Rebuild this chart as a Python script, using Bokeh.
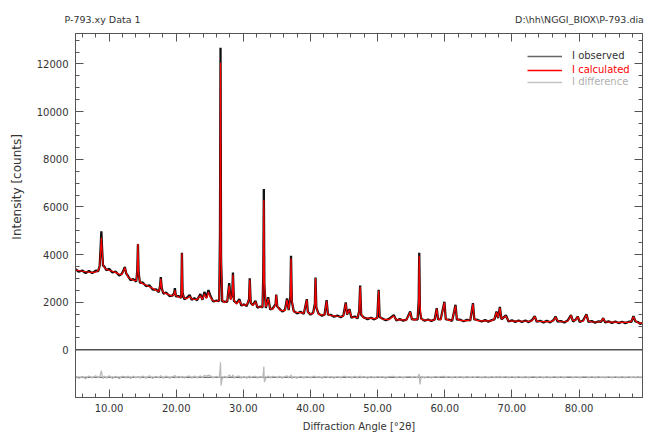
from bokeh.plotting import figure
from bokeh.models import (Range1d, LinearAxis, FixedTicker, NumeralTickFormatter,
                          Span, Title, Legend, LegendItem, ColumnDataSource)
from bokeh.embed import file_html
from bokeh.resources import INLINE

# ---- data ----
tth = [5.0, 5.5, 6.0, 6.5, 7.0, 7.5, 8.0, 8.4, 8.6, 8.75, 8.85, 8.95, 9.1, 9.3, 9.6, 10.0, 10.5, 11.0, 11.5, 11.9,
       12.15, 12.35, 12.55, 12.8, 13.2, 13.6, 14.05, 14.2, 14.3, 14.4, 14.6, 15.0, 15.5, 16.0, 16.5, 17.0, 17.4,
       17.6, 17.7, 17.85, 18.1, 18.5, 19.0, 19.5, 19.7, 19.8, 19.95, 20.4, 20.75, 20.85, 20.95, 21.2, 21.6, 22.0,
       22.3, 22.7, 23.1, 23.6, 23.9, 24.2, 24.5, 24.8, 25.1, 25.5, 26.0, 26.4, 26.52, 26.6, 26.68, 26.85, 27.2,
       27.6, 27.9, 28.1, 28.35, 28.45, 28.6, 29.0, 29.4, 29.7, 30.1, 30.5, 30.85, 30.95, 31.1, 31.4, 31.8, 32.1,
       32.5, 32.85, 32.97, 33.05, 33.13, 33.35, 33.7, 34.0, 34.4, 34.8, 34.9, 35.05, 35.4, 35.8, 36.2, 36.5, 36.75,
       37.0, 37.1, 37.22, 37.5, 38.0, 38.5, 39.0, 39.45, 39.6, 40.0, 40.4, 40.65, 40.75, 40.87, 41.2, 41.7, 42.1,
       42.4, 42.6, 43.0, 43.5, 44.0, 44.5, 44.9, 45.25, 45.45, 45.8, 46.1, 46.6, 47.0, 47.25, 47.4, 47.55, 47.9,
       48.5, 49.0, 49.5, 49.95, 50.15, 50.3, 50.7, 51.2, 51.7, 52.4, 52.8, 53.3, 53.8, 54.3, 54.85, 55.1, 55.5,
       55.95, 56.12, 56.2, 56.3, 56.5, 57.0, 57.5, 58.0, 58.5, 58.8, 59.0, 59.4, 59.95, 60.15, 60.6, 61.1, 61.6,
       61.8, 62.3, 62.8, 63.3, 63.8, 64.2, 64.4, 64.9, 65.5, 66.0, 66.5, 67.0, 67.4, 67.7, 67.95, 68.2, 68.45,
       69.1, 69.5, 70.0, 70.5, 71.0, 71.5, 72.0, 72.5, 73.0, 73.4, 73.7, 74.2, 74.7, 75.2, 75.7, 76.2, 76.5, 76.8,
       77.3, 77.8, 78.3, 78.8, 79.1, 79.5, 79.8, 80.1, 80.6, 81.1, 81.4, 81.9, 82.4, 82.9, 83.3, 83.6, 83.9, 84.4,
       84.9, 85.4, 85.9, 86.4, 86.9, 87.4, 87.8, 88.1, 88.4, 88.8, 89.1, 89.4]

i_calculated = [3350, 3330, 3300, 3280, 3260, 3250, 3260, 3330, 3500, 4200, 4700, 4200, 3600, 3450, 3380, 3340, 3300, 3240, 3180, 3160,
                3300, 3450, 3250, 3060, 2980, 2930, 2900, 3300, 4450, 3200, 2850, 2780, 2720, 2650, 2580, 2500, 2450,
                2650, 2980, 2560, 2400, 2360, 2300, 2260, 2350, 2500, 2280, 2210, 2200, 4050, 2350, 2170, 2150, 2250,
                2140, 2120, 2110, 2280, 2120, 2350, 2150, 2420, 2200, 2060, 2030, 2080, 4500, 12050, 4200, 2100, 1980,
                2050, 2700, 2100, 2300, 3150, 2100, 1920, 2080, 1900, 1880, 1880, 2100, 2950, 2000, 1850, 2020, 1810,
                1790, 1800, 3000, 6300, 2900, 1800, 2150, 1720, 1710, 1900, 2300, 1850, 1680, 1650, 1650, 2100, 1700,
                2200, 3850, 2100, 1600, 1570, 1560, 1540, 2100, 1580, 1510, 1520, 1900, 3000, 1800, 1490, 1470, 1460,
                2050, 1500, 1440, 1430, 1410, 1400, 1400, 1950, 1500, 1680, 1380, 1360, 1350, 1600, 2650, 1500, 1340,
                1330, 1320, 1310, 1330, 2480, 1400, 1290, 1280, 1270, 1420, 1260, 1260, 1255, 1250, 1580, 1300, 1250,
                1300, 2000, 3950, 1900, 1280, 1250, 1245, 1240, 1260, 1720, 1300, 1260, 1980, 1300, 1240, 1250, 1850,
                1300, 1235, 1230, 1230, 1260, 1930, 1300, 1225, 1220, 1220, 1215, 1220, 1300, 1580, 1350, 1760, 1300,
                1420, 1220, 1210, 1205, 1205, 1200, 1200, 1195, 1220, 1400, 1210, 1190, 1185, 1185, 1185, 1230, 1380, 1220,
                1180, 1180, 1200, 1440, 1220, 1250, 1390, 1200, 1200, 1470, 1200, 1175, 1170, 1170, 1200, 1320, 1180, 1165,
                1160, 1160, 1155, 1150, 1150, 1150, 1200, 1390, 1220, 1130, 1120, 1110]

i_observed = [3390, 3280, 3330, 3220, 3310, 3220, 3320, 3310, 3530, 4350, 4980, 4300, 3540, 3500, 3340, 3400, 3250, 3280, 3120, 3190,
              3340, 3480, 3210, 3110, 2930, 2970, 2870, 3330, 4430, 3240, 2810, 2830, 2680, 2710, 2530, 2540, 2420,
              2690, 3050, 2580, 2360, 2410, 2260, 2290, 2390, 2590, 2250, 2250, 2180, 4080, 2390, 2130, 2190, 2300,
              2100, 2170, 2080, 2340, 2100, 2430, 2190, 2510, 2260, 2030, 2070, 2050, 4800, 12680, 3850, 2040, 2020,
              2020, 2800, 2130, 2340, 3250, 2060, 1960, 2130, 1860, 1910, 1840, 2130, 3000, 1970, 1880, 2060, 1770,
              1820, 1780, 3150, 6750, 2700, 1760, 2210, 1690, 1750, 1920, 2320, 1820, 1720, 1610, 1680, 2160, 1670,
              2260, 3950, 2040, 1630, 1530, 1600, 1510, 2130, 1600, 1480, 1560, 1940, 3040, 1770, 1520, 1430, 1490,
              2090, 1480, 1470, 1390, 1440, 1370, 1440, 1990, 1480, 1710, 1350, 1400, 1320, 1630, 2700, 1470, 1370,
              1290, 1350, 1280, 1350, 2520, 1380, 1320, 1240, 1300, 1460, 1230, 1290, 1225, 1270, 1610, 1280, 1280,
              1270, 2100, 4080, 1600, 1310, 1220, 1275, 1210, 1280, 1750, 1280, 1290, 2020, 1280, 1270, 1220, 1890,
              1270, 1265, 1200, 1260, 1240, 1960, 1280, 1255, 1190, 1250, 1185, 1250, 1280, 1610, 1330, 1800, 1280,
              1450, 1190, 1240, 1175, 1235, 1170, 1230, 1165, 1250, 1420, 1180, 1220, 1155, 1215, 1155, 1250, 1400, 1190,
              1210, 1150, 1230, 1460, 1190, 1270, 1400, 1170, 1230, 1490, 1170, 1205, 1140, 1200, 1180, 1330, 1150, 1195,
              1130, 1190, 1125, 1180, 1120, 1180, 1180, 1410, 1190, 1160, 1090, 1130]

i_difference = [-1110, -1200, -1120, -1210, -1100, -1180, -1090, -1170, -1120, -1000, -870, -1050, -1210, -1100, -1190, -1090, -1200, -1110, -1210, -1120,
                -1110, -1120, -1190, -1100, -1200, -1110, -1180, -1120, -1170, -1110, -1190, -1100, -1190, -1090, -1200, -1110, -1180,
                -1110, -1080, -1130, -1190, -1100, -1190, -1120, -1110, -1060, -1180, -1110, -1170, -1120, -1110, -1190, -1110, -1100,
                -1190, -1100, -1180, -1090, -1170, -1070, -1110, -1060, -1090, -1180, -1110, -1180, -850, -520, -1500, -1210, -1110,
                -1180, -1050, -1120, -1110, -1050, -1190, -1110, -1100, -1190, -1120, -1190, -1120, -1100, -1180, -1120, -1110, -1190,
                -1120, -1170, -1000, -700, -1350, -1190, -1090, -1180, -1110, -1130, -1130, -1180, -1110, -1190, -1120, -1090, -1180,
                -1090, -1050, -1210, -1120, -1190, -1110, -1180, -1120, -1130, -1180, -1110, -1110, -1110, -1180, -1120, -1190, -1120,
                -1110, -1170, -1120, -1190, -1120, -1180, -1110, -1110, -1170, -1120, -1180, -1110, -1180, -1120, -1100, -1180, -1120,
                -1190, -1120, -1180, -1130, -1110, -1170, -1120, -1190, -1120, -1110, -1180, -1120, -1180, -1130, -1120, -1170, -1120,
                -1180, -1050, -1020, -1450, -1120, -1180, -1120, -1180, -1130, -1120, -1170, -1120, -1110, -1170, -1120, -1180, -1110,
                -1180, -1120, -1180, -1120, -1170, -1120, -1170, -1120, -1180, -1120, -1180, -1120, -1170, -1120, -1170, -1110, -1170,
                -1120, -1180, -1120, -1180, -1120, -1180, -1120, -1180, -1120, -1130, -1180, -1120, -1180, -1120, -1180, -1130, -1130, -1180,
                -1120, -1180, -1120, -1130, -1180, -1130, -1140, -1180, -1120, -1130, -1180, -1120, -1180, -1120, -1170, -1140, -1180, -1120,
                -1180, -1120, -1180, -1120, -1180, -1120, -1170, -1130, -1180, -1120, -1180, -1130]

difference_offset = -1150
x_major = [10, 20, 30, 40, 50, 60, 70, 80]
x_minor = [6, 8, 12, 14, 16, 18, 22, 24, 26, 28, 32, 34, 36, 38, 42, 44, 46, 48, 52, 54, 56, 58,
           62, 64, 66, 68, 72, 74, 76, 78, 82, 84, 86, 88]
y_major = [0, 2000, 4000, 6000, 8000, 10000, 12000]
y_minor = [500, 1000, 1500, 2500, 3000, 3500, 4500, 5000, 5500, 6500, 7000, 7500,
           8500, 9000, 9500, 10500, 11000, 11500, 12500, 13000]
legend_labels = ["I observed", "I calculated", "I difference"]
header_left = "P-793.xy Data 1"
header_right = "D:\\hh\\NGGI_BIOX\\P-793.dia"
y_label = "Intensity [counts]"
x_label = "Diffraction Angle [°2θ]"

# ---- figure ----
FONT = "DejaVu Sans"
AX = "#555555"
TXT = "#333333"
NB = "\u00a0"

p = figure(width=649, height=434, output_backend="svg", toolbar_location=None,
           x_range=Range1d(5, 89.45), y_range=Range1d(-2000, 13280),
           min_border_left=75, min_border_right=7, min_border_top=33, min_border_bottom=36)
p.xgrid.visible = False
p.ygrid.visible = False
p.outline_line_color = AX
p.background_fill_color = "white"

p.add_layout(LinearAxis(), "above")
p.add_layout(LinearAxis(), "right")

for ax in p.xaxis:
    ax.ticker = FixedTicker(ticks=x_major, minor_ticks=x_minor)
    ax.formatter = NumeralTickFormatter(format="0.00")
for ax in p.yaxis:
    ax.ticker = FixedTicker(ticks=y_major, minor_ticks=y_minor)
    ax.formatter = NumeralTickFormatter(format="0")
for ax in p.xaxis + p.yaxis:
    ax.axis_line_color = AX
    ax.major_tick_line_color = AX
    ax.minor_tick_line_color = AX
    ax.major_tick_in = 8
    ax.major_tick_out = 0
    ax.minor_tick_in = 4
    ax.minor_tick_out = 0
    ax.major_label_text_font = FONT
    ax.major_label_text_font_size = "10px"
    ax.major_label_text_color = TXT
    ax.axis_label_text_font = FONT
    ax.axis_label_text_font_size = "10px"
    ax.axis_label_text_font_style = "normal"
    ax.axis_label_text_color = TXT

# top and right axes carry ticks only
for ax in [p.above[0], p.right[0]]:
    ax.major_label_text_color = None
    ax.major_label_text_font_size = "1px"
    ax.major_label_standoff = 0

p.below[0].major_label_standoff = 6
p.below[0].axis_label = x_label
p.below[0].axis_label_standoff = 6
p.left[0].major_label_standoff = 7
p.left[0].axis_label = NB * 15 + y_label
p.left[0].axis_label_text_font_size = "12px"
p.left[0].axis_label_standoff = 10

# header line above the plot
p.add_layout(Title(text=header_left + NB * 124 + header_right, align="left", offset=-11,
                   standoff=18, text_font=FONT, text_font_size="9.5px",
                   text_font_style="normal", text_color=TXT), "above")

src = ColumnDataSource(dict(x=tth, obs=i_observed, calc=i_calculated, diff=i_difference))

p.add_layout(Span(location=difference_offset, dimension="width", line_color="#444444",
                  line_width=1, level="underlay"))
p.add_layout(Span(location=0, dimension="width", line_color="#505050", line_width=1.5))

r_diff = p.line("x", "diff", source=src, line_color="#b8b8b8", line_width=1.2)
r_obs = p.line("x", "obs", source=src, line_color="#111111", line_width=2.3)
r_calc = p.line("x", "calc", source=src, line_color="#ff0000", line_width=1.2)

# legend keys (placeholder renderers with no visible marks, styled like the reference key)
nan = float("nan")
key_styles = [("#666666", 1.6), ("#ff0000", 1.6), ("#c4c4c4", 1.6)]
keys = [p.line(x=[nan], y=[nan], line_color=c, line_width=w) for c, w in key_styles]

leg_y = [335.5, 321.5, 309.5]
leg_col = ["#333333", "#ff0000", "#b0b0b0"]
for lab, r, yy, col in zip(legend_labels, keys, leg_y, leg_col):
    lg = Legend(items=[LegendItem(label=lab, renderers=[r])], location=(452, yy),
                background_fill_alpha=0, border_line_color=None, padding=0, margin=0,
                spacing=0, glyph_width=35, glyph_height=12, label_height=12,
                label_standoff=10, label_text_font=FONT, label_text_font_size="10px",
                label_text_color=col, label_text_baseline="middle")
    p.add_layout(lg, "center")

open("out.html", "w").write(file_html(p, INLINE))
